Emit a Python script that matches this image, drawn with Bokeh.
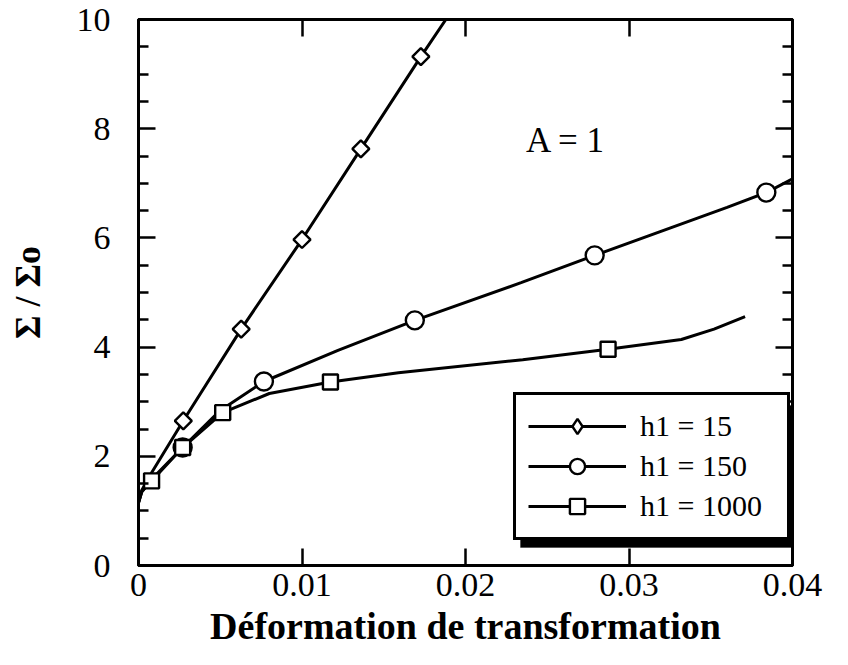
import numpy as np
from bokeh.plotting import figure
from bokeh.models import (Range1d, LinearAxis, FixedTicker, Legend, LegendItem,
                          Label, BoxAnnotation, CustomLabelingPolicy)
from bokeh.embed import file_html
from bokeh.resources import INLINE

# ---------------- data ----------------
x_ticks = [0.0, 0.01, 0.02, 0.03, 0.04]
x_tick_labels = ["0", "0.01", "0.02", "0.03", "0.04"]
y_ticks = [0, 2, 4, 6, 8, 10]
y_minor = [0.5, 1, 1.5, 2.5, 3, 3.5, 4.5, 5, 5.5, 6.5, 7, 7.5, 8.5, 9, 9.5]

# h1 = 15 (diamonds)
h15_curve_x = [0.0, 0.0002, 0.0008, 0.00274, 0.00628, 0.0100, 0.0136, 0.01727, 0.0188]
h15_curve_y = [1.15, 1.38, 1.70, 2.65, 4.33, 5.97, 7.63, 9.32, 10.0]
h15_mark_x = [0.00274, 0.00628, 0.0100, 0.0136, 0.01727]
h15_mark_y = [2.65, 4.33, 5.97, 7.63, 9.32]

# h1 = 150 (circles)
h150_curve_x = [0.0, 0.0002, 0.0008, 0.0027, 0.0050, 0.00767, 0.0122, 0.0169,
                0.0234, 0.0279, 0.0360, 0.0384, 0.0400]
h150_curve_y = [1.15, 1.35, 1.58, 2.16, 2.84, 3.37, 3.94, 4.49,
                5.18, 5.68, 6.56, 6.83, 7.08]
h150_mark_x = [0.0027, 0.00767, 0.0169, 0.0279, 0.0384]
h150_mark_y = [2.16, 3.37, 4.49, 5.68, 6.83]

# h1 = 1000 (squares)
h1000_curve_x = [0.0, 0.0002, 0.0008, 0.0027, 0.00515, 0.0080, 0.01174, 0.0159,
                 0.0235, 0.02872, 0.0332, 0.0352, 0.0371]
h1000_curve_y = [1.15, 1.35, 1.55, 2.16, 2.80, 3.15, 3.36, 3.53,
                 3.77, 3.96, 4.14, 4.33, 4.56]
h1000_mark_x = [0.0008, 0.0027, 0.00515, 0.01174, 0.02872]
h1000_mark_y = [1.55, 2.16, 2.80, 3.36, 3.96]

series_labels = ["h1 = 15", "h1 = 150", "h1 = 1000"]
x_title = "Déformation de transformation"
y_title = "Σ / Σo"
annot_text = "A = 1"
annot_x, annot_y = 0.0237, 7.78

FONT = "Liberation Serif"

# ---------------- figure ----------------
p = figure(width=832, height=657,
           x_range=Range1d(0, 0.04), y_range=Range1d(0, 10),
           output_backend="svg", toolbar_location=None,
           min_border_left=138, min_border_right=40,
           min_border_top=19, min_border_bottom=92,
           background_fill_color="white", border_fill_color="white")
p.grid.visible = False
p.outline_line_color = "black"
p.outline_line_width = 3
p.outline_line_alpha = 1.0

hide_all = CustomLabelingPolicy(code="""
for (const i of Array.from(indices)) indices.unset(i)
return indices
""")


def style_axis(ax, show_labels):
    ax.axis_line_color = "black"
    ax.axis_line_width = 3
    ax.major_tick_line_color = "black"
    ax.major_tick_line_width = 2.5
    ax.minor_tick_line_color = "black"
    ax.minor_tick_line_width = 2.5
    ax.major_tick_in = 17
    ax.major_tick_out = 0
    ax.minor_tick_in = 10
    ax.minor_tick_out = 0
    if show_labels:
        ax.major_label_text_font = FONT
        ax.major_label_text_font_size = "34px"
        ax.major_label_text_color = "black"
    else:
        ax.major_label_policy = hide_all
        ax.major_label_text_font_size = "0px"
        ax.major_label_standoff = 0


xa = p.xaxis[0]
xa.ticker = FixedTicker(ticks=x_ticks)
xa.major_label_overrides = {t: s for t, s in zip(x_ticks, x_tick_labels)}
style_axis(xa, True)
xa.major_label_standoff = 8
xa.axis_label = x_title
xa.axis_label_text_font = FONT
xa.axis_label_text_font_style = "bold"
xa.axis_label_text_font_size = "38px"
xa.axis_label_text_color = "black"
xa.axis_label_standoff = 6

ya = p.yaxis[0]
ya.ticker = FixedTicker(ticks=y_ticks, minor_ticks=y_minor)
ya.major_label_overrides = {t: str(t) for t in y_ticks}
style_axis(ya, True)
ya.major_label_standoff = 28
ya.axis_label = y_title
ya.axis_label_text_font = FONT
ya.axis_label_text_font_style = "bold"
ya.axis_label_text_font_size = "36px"
ya.axis_label_text_color = "black"
ya.axis_label_standoff = 26

ra = LinearAxis(ticker=FixedTicker(ticks=y_ticks, minor_ticks=y_minor))
style_axis(ra, False)
p.add_layout(ra, "right")
ta = LinearAxis(ticker=FixedTicker(ticks=x_ticks))
style_axis(ta, False)
p.add_layout(ta, "above")

LW = 3
l1 = p.line(h15_curve_x, h15_curve_y, line_color="black", line_width=LW)
m1 = p.scatter(h15_mark_x, h15_mark_y, marker="square", angle=np.pi / 4, size=12,
               fill_color="white", line_color="black", line_width=2.4)
l2 = p.line(h150_curve_x, h150_curve_y, line_color="black", line_width=LW)
m2 = p.scatter(h150_mark_x, h150_mark_y, marker="circle", size=18,
               fill_color="white", line_color="black", line_width=2.4)
l3 = p.line(h1000_curve_x, h1000_curve_y, line_color="black", line_width=LW)
m3 = p.scatter(h1000_mark_x, h1000_mark_y, marker="square", size=15,
               fill_color="white", line_color="black", line_width=2.4)
# legend-only diamond glyph (legend draws markers unrotated); NaN = not drawn in plot
d_leg = p.scatter([np.nan], [np.nan], marker="diamond", fill_color="white",
                  line_color="black", line_width=2.4)

p.add_layout(Label(x=annot_x, y=annot_y, text=annot_text, text_font=FONT,
                   text_font_size="35px", text_color="black",
                   text_baseline="middle", text_align="left"))

# legend with drop shadow
LEG_X, LEG_Y = 375, 25
PAD, GW, GH, STAND, LBW, SP = 12, 98, 38, 14, 135, 2
leg_w = 2 * PAD + GW + STAND + LBW
leg_h = 2 * PAD + 3 * GH + 2 * SP
SH = 7
shadow = BoxAnnotation(left=LEG_X + SH, right=LEG_X + leg_w + SH,
                       bottom=LEG_Y - SH, top=LEG_Y + leg_h - SH,
                       left_units="screen", right_units="screen",
                       bottom_units="screen", top_units="screen",
                       fill_color="black", fill_alpha=1.0, line_color="black",
                       level="overlay")
p.add_layout(shadow)

legend = Legend(items=[LegendItem(label=series_labels[0], renderers=[l1, d_leg]),
                       LegendItem(label=series_labels[1], renderers=[l2, m2]),
                       LegendItem(label=series_labels[2], renderers=[l3, m3])],
                location=(LEG_X, LEG_Y), margin=0, padding=PAD, spacing=SP,
                glyph_width=GW, glyph_height=GH, label_height=GH, label_width=LBW,
                label_standoff=STAND, label_text_font=FONT,
                label_text_font_size="30px", label_text_color="black",
                border_line_color="black", border_line_width=3,
                border_line_alpha=1.0,
                background_fill_color="white", background_fill_alpha=1.0)
p.add_layout(legend)

open("out.html", "w").write(file_html(p, INLINE))
